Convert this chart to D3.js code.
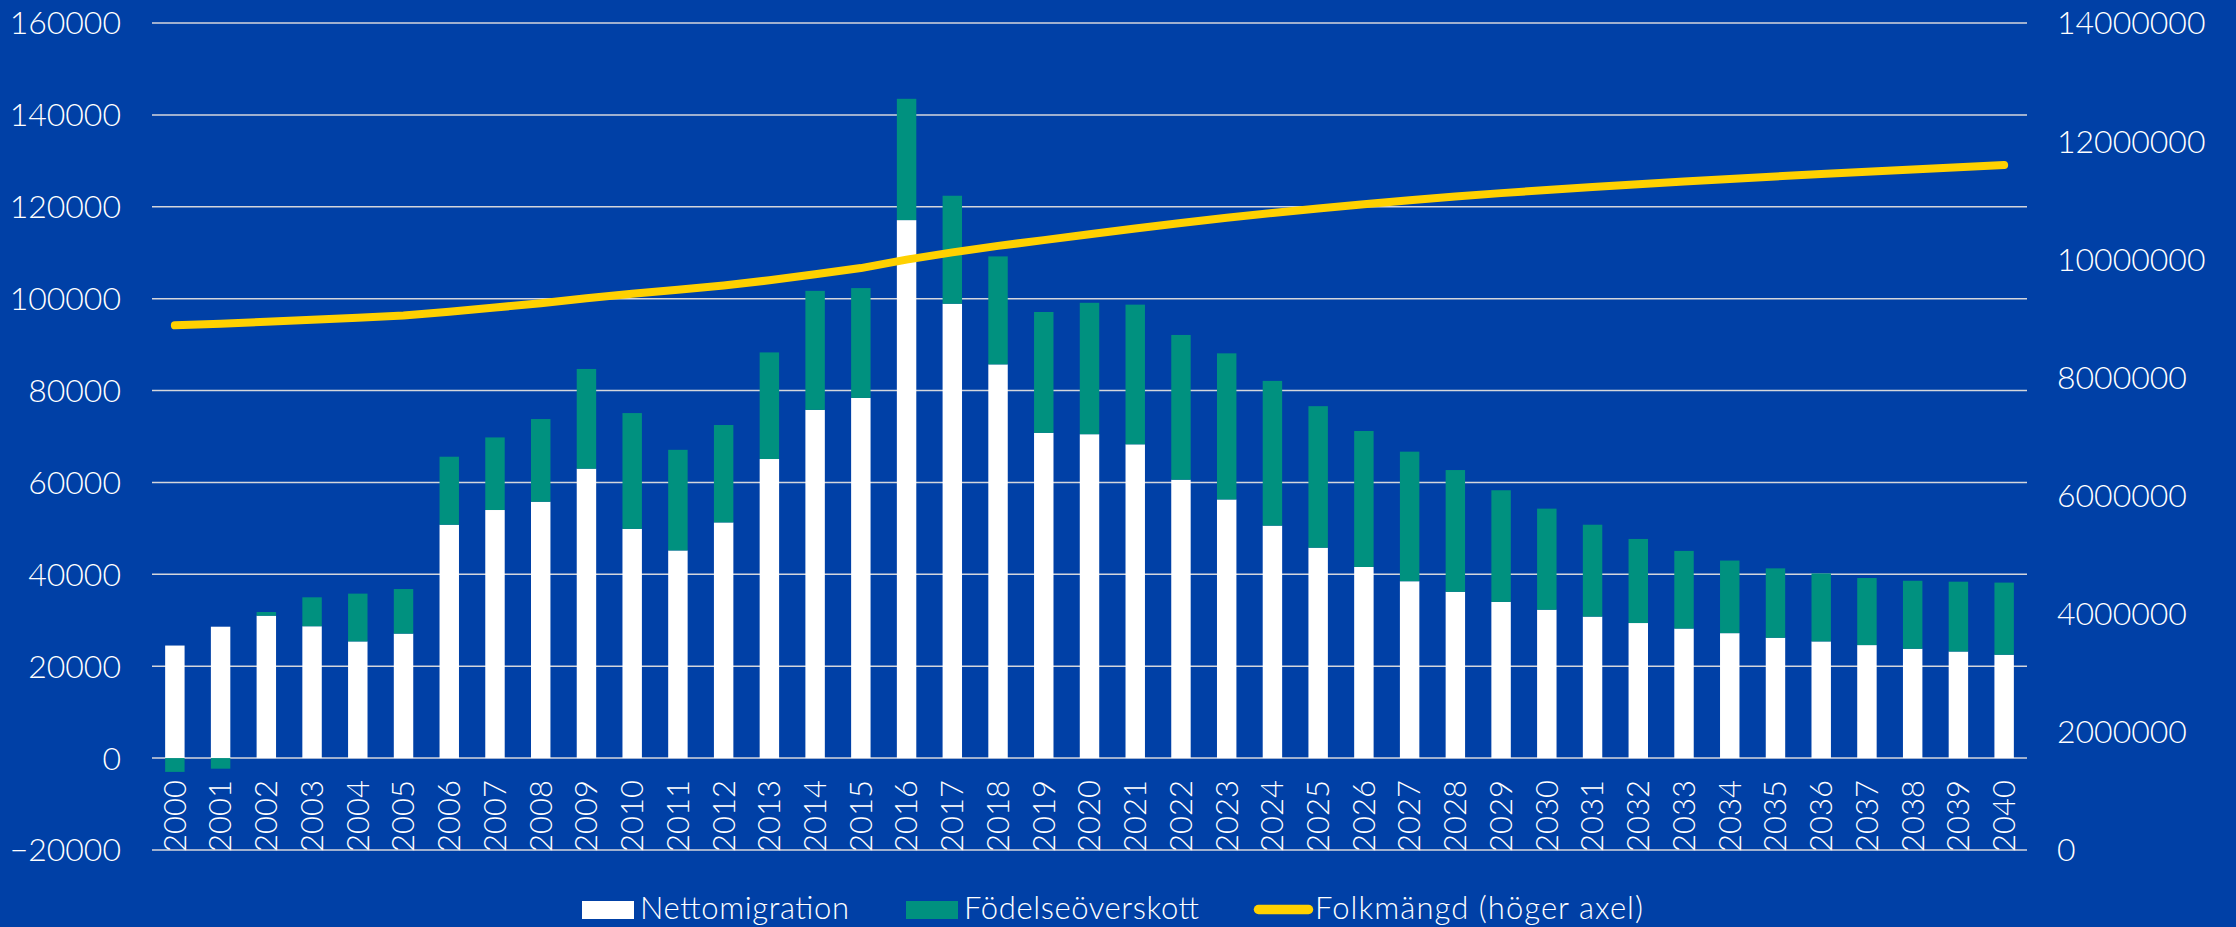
<!DOCTYPE html>
<html>
<head>
<meta charset="utf-8">
<script src="https://cdn.jsdelivr.net/npm/d3@7"></script>
<style>
  html, body { margin: 0; padding: 0; background: #0040A6; }
  svg { display: block; }
  text { font-family: Lato, "Open Sans", sans-serif; font-weight: 300; fill: #ffffff; }
</style>
</head>
<body>
<svg id="chart" width="2236" height="927"></svg>
<script>
// ---- Data ----
const years = [2000,2001,2002,2003,2004,2005,2006,2007,2008,2009,2010,2011,2012,2013,2014,2015,2016,2017,2018,2019,2020,
               2021,2022,2023,2024,2025,2026,2027,2028,2029,2030,2031,2032,2033,2034,2035,2036,2037,2038,2039,2040];

const nettomigration = [24500,28600,31000,28700,25400,27100,50800,54000,55800,63000,49900,45200,51300,65100,75800,78400,117100,98900,85700,70800,70500,
                        68300,60600,56300,50600,45800,41600,38500,36200,34000,32300,30800,29400,28200,27200,26200,25400,24600,23800,23200,22500];

const fodelseoverskott = [-3000,-2300,800,6300,10400,9700,14800,15800,18000,21700,25200,21900,21200,23200,25900,23900,26400,23500,23500,26300,28600,
                          30400,31500,31800,31500,30800,29600,28200,26500,24300,22000,20000,18300,16900,15800,15100,14800,14600,14800,15200,15700];

const folkmangd = [8883000,8909000,8941000,8976000,9011000,9048000,9113000,9183000,9256000,9341000,9416000,9483000,9556000,9645000,9747000,9851000,9995000,
                   10117000,10227000,10324000,10423000,10522000,10614000,10702000,10784000,10861000,10932000,10999000,11061000,11120000,11174000,
                   11225000,11272000,11318000,11361000,11402000,11442000,11481000,11520000,11558000,11596000];

const leftTicks = [-20000,0,20000,40000,60000,80000,100000,120000,140000,160000];
const rightTicks = [0,2000000,4000000,6000000,8000000,10000000,12000000,14000000];

const seriesNames = ["Nettomigration","Födelseöverskott","Folkmängd (höger axel)"];

// ---- Styles ----
const colWhite = "#ffffff";
const colGreen = "#00917F";
const colYellow = "#FFD100";
const colGrid = "#d4d6dc";

// ---- Layout ----
const plotLeft = 152, plotRight = 2027, plotTop = 23, plotBottom = 850;

const svg = d3.select("#chart");

const x = d3.scaleBand().domain(years).range([plotLeft, plotRight]).paddingInner(0.575).paddingOuter(0.2875);
const y = d3.scaleLinear().domain([-20000, 160000]).range([plotBottom, plotTop]);
const y2 = d3.scaleLinear().domain([0, 14000000]).range([plotBottom, plotTop]);

// Gridlines
svg.append("g").selectAll("line").data(leftTicks).join("line")
  .attr("x1", plotLeft).attr("x2", plotRight)
  .attr("y1", d => y(d)).attr("y2", d => y(d))
  .attr("stroke", colGrid).attr("stroke-width", 1.5);

// Left axis
const yAxis = d3.axisLeft(y).tickValues(leftTicks).tickFormat(d3.format("d")).tickSize(0).tickPadding(0);
const gy = svg.append("g").attr("transform", `translate(${plotLeft - 31},0)`).call(yAxis);
gy.select(".domain").remove();
gy.selectAll("text").attr("font-size", 32).attr("fill", "#fff").attr("font-family", "Lato").attr("font-weight", 300).attr("dy", "0.34em");

// Right axis
const yAxis2 = d3.axisRight(y2).tickValues(rightTicks).tickFormat(d3.format("d")).tickSize(0).tickPadding(0);
const gy2 = svg.append("g").attr("transform", `translate(${plotRight + 30},0)`).call(yAxis2);
gy2.select(".domain").remove();
gy2.selectAll("text").attr("font-size", 32).attr("fill", "#fff").attr("font-family", "Lato").attr("font-weight", 300).attr("dy", "0.34em");

// Stacked bars
const table = years.map((yr, i) => ({year: yr, mig: nettomigration[i], nat: fodelseoverskott[i]}));
const stack = d3.stack().keys(["mig", "nat"]).offset(d3.stackOffsetDiverging);
const stacked = stack(table);
const colors = {mig: colWhite, nat: colGreen};

svg.append("g").selectAll("g").data(stacked).join("g")
  .attr("fill", d => colors[d.key])
  .selectAll("rect").data(d => d).join("rect")
  .attr("x", d => x(d.data.year))
  .attr("width", x.bandwidth())
  .attr("y", d => y(Math.max(d[0], d[1])))
  .attr("height", d => Math.abs(y(d[0]) - y(d[1])));

// Year labels
const xAxis = d3.axisBottom(x).tickSize(0).tickPadding(0);
const gx = svg.append("g").attr("transform", `translate(0,${y(0)})`).call(xAxis);
gx.select(".domain").remove();
gx.selectAll("text")
  .attr("font-size", 31).attr("fill", "#fff").attr("font-family", "Lato").attr("font-weight", 300)
  .attr("text-anchor", "end")
  .attr("transform", "translate(0,22) rotate(-90)")
  .attr("x", 0).attr("y", 0).attr("dy", "0.35em");

// Population line
const line = d3.line().x((d, i) => x(years[i]) + x.bandwidth() / 2).y(d => y2(d));
svg.append("path").datum(folkmangd)
  .attr("d", line).attr("fill", "none")
  .attr("stroke", colYellow).attr("stroke-width", 8)
  .attr("stroke-linecap", "round").attr("stroke-linejoin", "round");

// Legend
const lg = svg.append("g");
lg.append("rect").attr("x", 582).attr("y", 901).attr("width", 52).attr("height", 18).attr("fill", colWhite);
lg.append("text").attr("x", 640).attr("y", 919).attr("font-size", 31).attr("textLength", 209).attr("lengthAdjust", "spacing").text(seriesNames[0]);
lg.append("rect").attr("x", 906).attr("y", 901).attr("width", 52).attr("height", 18).attr("fill", colGreen);
lg.append("text").attr("x", 964).attr("y", 919).attr("font-size", 31).attr("textLength", 235).attr("lengthAdjust", "spacing").text(seriesNames[1]);
lg.append("line").attr("x1", 1258.5).attr("x2", 1308.5).attr("y1", 909.5).attr("y2", 909.5)
  .attr("stroke", colYellow).attr("stroke-width", 9.5).attr("stroke-linecap", "round");
lg.append("text").attr("x", 1315).attr("y", 919).attr("font-size", 31).attr("textLength", 328).attr("lengthAdjust", "spacing").text(seriesNames[2]);
</script>
</body>
</html>
